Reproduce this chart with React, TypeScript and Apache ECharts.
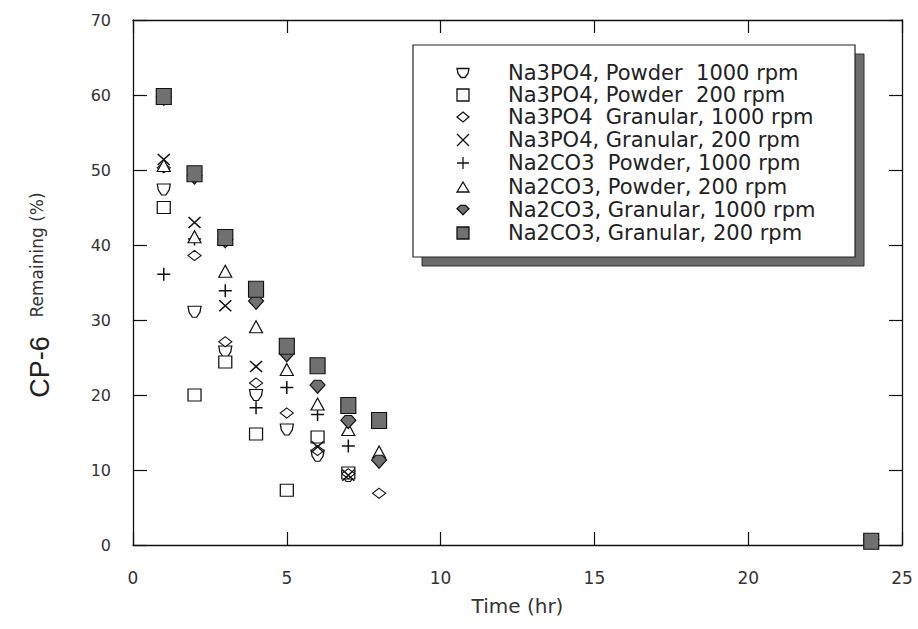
import React, { useEffect, useRef } from "react";
import * as echarts from "echarts";

// ---- data ----
const na3po4Powder1000T = [1, 2, 3, 4, 5, 6, 7];
const na3po4Powder1000 = [47.4, 31.1, 25.8, 20.0, 15.4, 11.9, 9.2];
const na3po4Powder200T = [1, 2, 3, 4, 5, 6, 7];
const na3po4Powder200 = [45.0, 20.0, 24.4, 14.8, 7.3, 14.4, 9.6];
const na3po4Gran1000T = [1, 2, 3, 4, 5, 6, 7, 8];
const na3po4Gran1000 = [50.3, 38.6, 27.1, 21.6, 17.6, 12.6, 9.5, 6.9];
const na3po4Gran200T = [1, 2, 3, 4, 6, 7];
const na3po4Gran200 = [51.4, 43.0, 31.9, 23.8, 13.1, 9.3];
const na2co3Powder1000T = [1, 2, 3, 4, 5, 6, 7];
const na2co3Powder1000 = [36.1, 40.8, 33.9, 18.3, 21.0, 17.4, 13.2];
const na2co3Powder200T = [1, 2, 3, 4, 5, 6, 7, 8];
const na2co3Powder200 = [50.6, 41.1, 36.5, 29.1, 23.4, 18.8, 15.4, 12.4];
const na2co3Gran1000T = [1, 2, 3, 4, 5, 6, 7, 8, 24];
const na2co3Gran1000 = [59.5, 49.0, 40.5, 32.3, 25.3, 21.1, 16.4, 11.1, 0.5];
const na2co3Gran200T = [1, 2, 3, 4, 5, 6, 7, 8, 24];
const na2co3Gran200 = [59.8, 49.5, 41.0, 34.1, 26.5, 23.9, 18.6, 16.6, 0.5];

const seriesNames = [
  "Na3PO4, Powder  1000 rpm",
  "Na3PO4, Powder  200 rpm",
  "Na3PO4  Granular, 1000 rpm",
  "Na3PO4, Granular, 200 rpm",
  "Na2CO3  Powder, 1000 rpm",
  "Na2CO3, Powder, 200 rpm",
  "Na2CO3, Granular, 1000 rpm",
  "Na2CO3, Granular, 200 rpm",
];

const xTicks = { min: 0, max: 25, interval: 5 };
const yTicks = { min: 0, max: 70, interval: 10 };

// ---- marker shapes ----
const shapes = [
  { d: "M0,0 L12,0 L11,5 L8,9 L4,9 L1,5 Z", w: 12, h: 9, size: [13, 11], fill: "#fff" },
  { d: "M0,0 L10,0 L10,10 L0,10 Z", w: 10, h: 10, size: [13, 12], fill: "#fff" },
  { d: "M6,0 L12,5 L6,10 L0,5 Z", w: 12, h: 10, size: [13, 10], fill: "#fff" },
  { d: "M0,0 L10,10 M10,0 L0,10", w: 10, h: 10, size: [12, 11], fill: "none" },
  { d: "M5,0 L5,10 M0,5 L10,5", w: 10, h: 10, size: [13, 13], fill: "none" },
  { d: "M6,0 L12,10 L0,10 Z", w: 12, h: 10, size: [13, 12], fill: "#fff" },
  { d: "M0,4 L4,0 L10,0 L14,4 L10,8 L7,11 L4,8 Z", w: 14, h: 11, size: [15, 13], fill: "#707070" },
  { d: "M0,0 L10,0 L10,10 L0,10 Z", w: 10, h: 10, size: [15, 16], fill: "#707070" },
];

const seriesT = [
  na3po4Powder1000T, na3po4Powder200T, na3po4Gran1000T, na3po4Gran200T,
  na2co3Powder1000T, na2co3Powder200T, na2co3Gran1000T, na2co3Gran200T,
];
const seriesV = [
  na3po4Powder1000, na3po4Powder200, na3po4Gran1000, na3po4Gran200,
  na2co3Powder1000, na2co3Powder200, na2co3Gran1000, na2co3Gran200,
];

let registered = false;
function registerShapes() {
  if (registered) return;
  shapes.forEach((s, i) => {
    echarts.graphic.registerShape("mk" + i, echarts.graphic.extendPath(s.d, {}));
  });
  registered = true;
}

export default function App() {
  const ref = useRef<HTMLDivElement>(null);
  useEffect(() => {
    if (!ref.current) return;
    registerShapes();
    const chart = echarts.init(ref.current, undefined, { renderer: "svg" });
    const axisLine = { show: true, onZero: false, lineStyle: { color: "#111", width: 1.3 } };
    const tick = (len: number) => ({
      show: true,
      inside: true,
      length: len,
      lineStyle: { color: "#111", width: 1.2 },
    });
    const labelFont = { fontFamily: "DejaVu Sans", fontSize: 16, color: "#333" };

    const legendRowsY = [73, 95, 117, 140, 163, 187, 210, 233];
    const legendIconX = 463;
    const legendTextX = 508;
    const legendEls: any[] = [];
    legendEls.push({
      type: "rect",
      shape: { x: 422, y: 54, width: 442, height: 212 },
      style: { fill: "#6c6c6c", stroke: "#333", lineWidth: 1 },
      z: 100,
    });
    legendEls.push({
      type: "rect",
      shape: { x: 413, y: 45, width: 442, height: 212 },
      style: { fill: "#fff", stroke: "#222", lineWidth: 1.2 },
      z: 101,
    });
    shapes.forEach((s, i) => {
      const scale = 12 / Math.max(s.w, s.h);
      const y = legendRowsY[i];
      legendEls.push({
        type: "mk" + i,
        x: legendIconX - (s.w * scale) / 2,
        y: y - (s.h * scale) / 2,
        scaleX: scale,
        scaleY: scale,
        style: { fill: s.fill, stroke: "#111", lineWidth: 1.3 / scale },
        z: 102,
      });
      legendEls.push({
        type: "text",
        x: legendTextX,
        y: y,
        style: {
          text: seriesNames[i],
          fontFamily: "DejaVu Sans",
          fontSize: 21,
          fill: "#222",
          textAlign: "left",
          textVerticalAlign: "middle",
        },
        z: 102,
      });
    });

    const option: any = {
      animation: false,
      backgroundColor: "#fff",
      grid: { left: 133, right: 16, top: 20, bottom: 84 },
      xAxis: [
        {
          type: "value",
          position: "bottom",
          ...xTicks,
          axisLine,
          axisTick: tick(13),
          axisLabel: { ...labelFont, fontSize: 17, margin: 24 },
          splitLine: { show: false },
          name: "Time (hr)",
          nameLocation: "middle",
          nameGap: 51,
          nameTextStyle: { fontFamily: "DejaVu Sans", fontSize: 20, color: "#333" },
        },
        {
          type: "value",
          position: "top",
          ...xTicks,
          axisLine,
          axisTick: tick(13),
          axisLabel: { show: false },
          splitLine: { show: false },
        },
      ],
      yAxis: [
        {
          type: "value",
          position: "left",
          ...yTicks,
          axisLine,
          axisTick: tick(14),
          axisLabel: { ...labelFont, margin: 22 },
          splitLine: { show: false },
        },
        {
          type: "value",
          position: "right",
          ...yTicks,
          axisLine,
          axisTick: tick(13),
          axisLabel: { show: false },
          splitLine: { show: false },
        },
      ],
      series: shapes.map((s, i) => ({
        type: "scatter",
        name: seriesNames[i],
        xAxisIndex: 0,
        yAxisIndex: 0,
        symbol: "path://" + s.d,
        symbolSize: s.size,
        itemStyle: {
          color: s.fill,
          borderColor: "#111",
          borderWidth: s.fill === "none" ? 1.5 : 1.2,
          opacity: 1,
        },
        emphasis: { disabled: true },
        data: seriesT[i].map((t, j) => [t, seriesV[i][j]]),
        z: 2 + i,
      })),
      graphic: [
        {
          type: "text",
          x: 40,
          y: 367,
          rotation: Math.PI / 2,
          style: {
            text: "CP-6",
            fontFamily: "Liberation Sans",
            fontSize: 27,
            fill: "#222",
            textAlign: "center",
            textVerticalAlign: "middle",
          },
        },
        {
          type: "text",
          x: 37,
          y: 255,
          rotation: Math.PI / 2,
          style: {
            text: "Remaining (%)",
            fontFamily: "DejaVu Sans",
            fontSize: 17,
            fill: "#333",
            textAlign: "center",
            textVerticalAlign: "middle",
          },
        },
        ...legendEls,
      ],
    };
    chart.setOption(option);
    return () => chart.dispose();
  }, []);
  return (
    <div
      ref={ref}
      style={{ position: "fixed", left: 0, top: 0, width: 918, height: 629, background: "#fff" }}
    />
  );
}
